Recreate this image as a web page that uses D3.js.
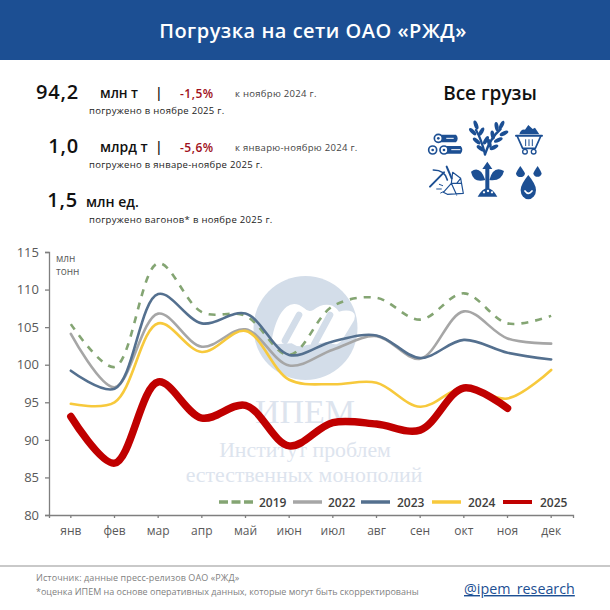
<!DOCTYPE html>
<html>
<head>
<meta charset="utf-8">
<script src="https://cdn.jsdelivr.net/npm/d3@7"></script>
<style>
  html, body { margin: 0; padding: 0; background: #fff; }
  text { font-family: "Open Sans", sans-serif; }
</style>
</head>
<body>
<svg id="chart" width="610" height="610"></svg>
<script>
var months = ["янв","фев","мар","апр","май","июн","июл","авг","сен","окт","ноя","дек"];
var yTicks = [80,85,90,95,100,105,110,115];
var v2019 = [105.4,99.7,113.5,107.0,106.5,101.3,107.8,108.9,106.0,109.5,105.5,106.5];
var v2022 = [104.1,97.0,106.8,102.4,104.7,99.9,102.0,103.8,100.8,107.1,103.5,102.8];
var v2023 = [99.2,96.8,109.4,105.5,106.8,101.3,103.1,103.9,100.9,103.3,101.6,100.7];
var v2024 = [94.8,95.0,105.5,101.7,104.5,98.0,97.4,97.6,94.4,97.0,95.5,99.3];
var v2025 = [93.1,86.9,97.7,92.9,94.6,89.2,92.3,92.1,91.3,96.9,94.2];

var seriesList = [
  {name:"2019", values:v2019, color:"#84a573", width:2.6, dash:"7 7"},
  {name:"2022", values:v2022, color:"#a6a6a6", width:2.6},
  {name:"2023", values:v2023, color:"#54708f", width:2.6},
  {name:"2024", values:v2024, color:"#f7c93c", width:2.6},
  {name:"2025", values:v2025, color:"#c00000", width:7.5}
];

var svg = d3.select("#chart");
var blue = "#1c4f93";

// header
svg.append("rect").attr("width",610).attr("height",60).attr("fill",blue);
svg.append("text").attr("x",313).attr("y",38).attr("text-anchor","middle")
  .attr("fill","#fff").attr("font-size",20).attr("font-weight",600).attr("letter-spacing",0.5)
  .text("Погрузка на сети ОАО «РЖД»");

// summary text
function label(x,y,size,txt,color,weight,anchor){
  return svg.append("text").attr("x",x).attr("y",y).attr("font-size",size)
    .attr("fill",color||"#111").attr("font-weight",weight||400)
    .attr("text-anchor",anchor||"start").text(txt);
}
function small(x,y,txt,color){
  return label(x,y,9.5,txt,color).attr("letter-spacing",0.3);
}
label(79,99,20,"94,2","#111",600,"end").attr("letter-spacing",0.8);
label(100,98,13.5,"млн т","#111",600);
label(155,98,14,"|","#111",600);
label(180,98,12,"-1,5%","#a01020",600).attr("letter-spacing",0.5);
small(235,97,"к ноябрю 2024 г.","#444");
small(89,114,"погружено в ноябре 2025 г.","#222");
label(79,153,20,"1,0","#111",600,"end").attr("letter-spacing",0.8);
label(100,152,14,"млрд т","#111",600);
label(155,152,14,"|","#111",600);
label(180,152,12,"-5,6%","#a01020",600).attr("letter-spacing",0.5);
small(235,151,"к январю-ноябрю 2024 г.","#444");
small(89,168,"погружено в январе-ноябре 2025 г.","#222");
label(78,207,20,"1,5","#111",600,"end").attr("letter-spacing",0.8);
label(86,207,14,"млн ед.","#111",600);
small(89,223,"погружено вагонов* в ноябре 2025 г.","#222");
label(490,100,19,"Все грузы","#111",600,"middle");

// icons, drawn in the coordinates of a 3x crop
function icons(){
  var g = svg.append("g").attr("transform","translate(410,115) scale(0.3333)")
    .attr("fill",blue).attr("stroke","none");
  function stroke(d,w,col){
    g.append("path").attr("d",d).attr("fill","none").attr("stroke",col||blue).attr("stroke-width",w)
      .attr("stroke-linecap","round").attr("stroke-linejoin","round");
  }
  // logs
  g.append("path").attr("d","M88 59H138Q148 70 138 82H88Z");
  g.append("path").attr("d","M110 93H152Q162 104 152 116H110Z");
  stroke("M110 70H130M125 104H150",3,"#fff");
  [[85,70],[68,105],[102,105]].forEach(function(c){
    g.append("circle").attr("cx",c[0]).attr("cy",c[1]).attr("r",12).attr("fill","#fff").attr("stroke",blue).attr("stroke-width",5);
    g.append("circle").attr("cx",c[0]).attr("cy",c[1]).attr("r",4);
  });
  // wheat
  stroke("M225 118Q215 75 198 45",7);
  stroke("M225 118Q240 70 272 42",7);
  [[198,30,-20],[188,50,-45],[214,50,30],[200,78,-50],[228,76,30],[212,100,-55]].forEach(function(l){
    g.append("ellipse").attr("cx",l[0]).attr("cy",l[1]).attr("rx",6).attr("ry",14)
      .attr("transform","rotate("+l[2]+" "+l[0]+" "+l[1]+")");
  });
  [[275,30,25],[260,35,-10],[282,55,65],[248,60,-10],[265,75,65],[238,85,-15],[252,97,65]].forEach(function(l){
    g.append("ellipse").attr("cx",l[0]).attr("cy",l[1]).attr("rx",6).attr("ry",14)
      .attr("transform","rotate("+l[2]+" "+l[0]+" "+l[1]+")");
  });
  // coal cart
  g.append("path").attr("d","M328 58Q332 42 345 44L355 30L368 42L375 38L388 58Z");
  stroke("M318 62H396",6);
  stroke("M322 64L338 100H376L392 64",5);
  stroke("M347 74V92M357 74V92M367 74V92",3);
  [[345,110],[371,110]].forEach(function(c){
    g.append("circle").attr("cx",c[0]).attr("cy",c[1]).attr("r",7).attr("fill","#fff").attr("stroke",blue).attr("stroke-width",4);
  });
  // pickaxe and rock
  stroke("M60 215L102 172",6);
  stroke("M70 165Q105 165 112 195",5);
  stroke("M110 155L125 190",6);
  stroke("M128 172L152 190L160 235L112 238L100 232L124 205Z M124 205L140 240M124 205L155 205M152 190L140 205",3.5);
  stroke("M88 208L98 212M80 222L94 222M92 234L100 230",3);
  // sprout
  g.append("path").attr("d","M232 140L247 162H238V225H226V162H217Z");
  g.append("path").attr("d","M226 195Q190 205 183 170Q210 150 226 195Z");
  g.append("path").attr("d","M238 195Q275 200 282 168Q250 150 238 195Z");
  g.append("path").attr("d","M203 245Q232 195 262 245Z");
  [[222,232],[234,228],[246,232]].forEach(function(c){
    g.append("circle").attr("cx",c[0]).attr("cy",c[1]).attr("r",3.5).attr("fill","#fff");
  });
  // drops
  g.append("path").attr("d","M331 153Q345 173 345 176A14 14 0 0 1 318 176Q318 172 331 153Z");
  g.append("path").attr("d","M383 153Q395 172 395 176A13 13 0 0 1 370 176Q370 172 383 153Z");
  g.append("path").attr("d","M355 180Q378 208 378 225A23 28 0 0 1 332 225Q332 208 355 180Z");
  stroke("M345 228Q355 242 366 228",5,"#fff");
}
icons();

// watermark
var wm = svg.append("g");
wm.append("circle").attr("cx",305.5).attr("cy",328).attr("r",52).attr("fill","#d3dde9");
var logo = wm.append("g").attr("transform","translate(245,270) scale(0.3333)");
logo.append("path").attr("fill","#fff")
  .attr("d","M82 200Q95 135 125 110Q150 92 178 115Q190 128 205 120Q230 100 255 105Q270 108 282 125Q305 118 322 125Q338 135 322 160L290 212Q270 232 255 215L185 225Q160 235 140 220L100 222Q75 220 82 200Z");
logo.append("path").attr("d","M162 135L120 212M255 135L208 222").attr("stroke","#d3dde9")
  .attr("stroke-width",20).attr("stroke-linecap","round").attr("fill","none");
var serif = '"Liberation Serif", serif';
[[305,423,34,"ИПЕМ"],[305,457,21.8,"Институт проблем"],[304,482,21.8,"естественных монополий"]].forEach(function(t){
  wm.append("text").attr("x",t[0]).attr("y",t[1]).attr("text-anchor","middle")
    .attr("font-size",t[2]).attr("fill","#dde4ee").style("font-family",serif).text(t[3]);
});

// chart
var x = d3.scaleBand().domain(months).range([49,573]);
var y = d3.scaleLinear().domain([80,115]).range([515,252]);

var yAxis = d3.axisLeft(y).tickValues(yTicks).tickSize(4).tickPadding(6);
var gy = svg.append("g").attr("transform","translate(49,0)").call(yAxis);
var xAxis = d3.axisBottom(x).tickSize(3).tickPadding(8);
var gx = svg.append("g").attr("transform","translate(0,515)").call(xAxis);
[gx,gy].forEach(function(a){
  a.selectAll("path,line").attr("stroke","#7f7f7f").attr("stroke-width",1.3);
  a.selectAll("text").attr("fill","#595959").attr("font-size",13).style("font-family",'"Open Sans", sans-serif');
});
gx.selectAll("text").attr("font-size",12);
label(56,262,10,"млн","#595959");
label(56,275,10,"тонн","#595959");

var line = d3.line()
  .x(function(d,i){ return x(months[i]) + x.bandwidth()/2; })
  .y(function(d){ return y(d); })
  .curve(d3.curveCatmullRom.alpha(0.5));

seriesList.forEach(function(s){
  svg.append("path").datum(s.values).attr("d",line).attr("fill","none")
    .attr("stroke",s.color).attr("stroke-width",s.width)
    .attr("stroke-dasharray",s.dash||null).attr("stroke-linecap",s.dash?"butt":"round");
});

// legend
var legendPos = [[219,253,259],[293,322,328],[361,390,397],[432,461,468],[503,532,540]];
seriesList.forEach(function(s,i){
  var p = legendPos[i];
  svg.append("line").attr("x1",p[0]).attr("x2",p[1]).attr("y1",502).attr("y2",502)
    .attr("stroke",s.color).attr("stroke-width",s.name=="2025"?4:3.5).attr("stroke-dasharray",s.dash?"9 3.5":null);
  label(p[2],507,12,s.name,"#404040",600);
});

// footer
svg.append("rect").attr("x",0).attr("y",565).attr("width",610).attr("height",2).attr("fill","#c9c9c9");
label(36,581,9,"Источник: данные пресс-релизов ОАО «РЖД»","#7f7f7f").attr("letter-spacing",0.1);
label(36,595,9,"*оценка ИПЕМ на основе оперативных данных, которые могут быть скорректированы","#7f7f7f");
label(464,594,14.3,"@ipem_research",blue,400).attr("text-decoration","underline");
</script>
</body>
</html>
